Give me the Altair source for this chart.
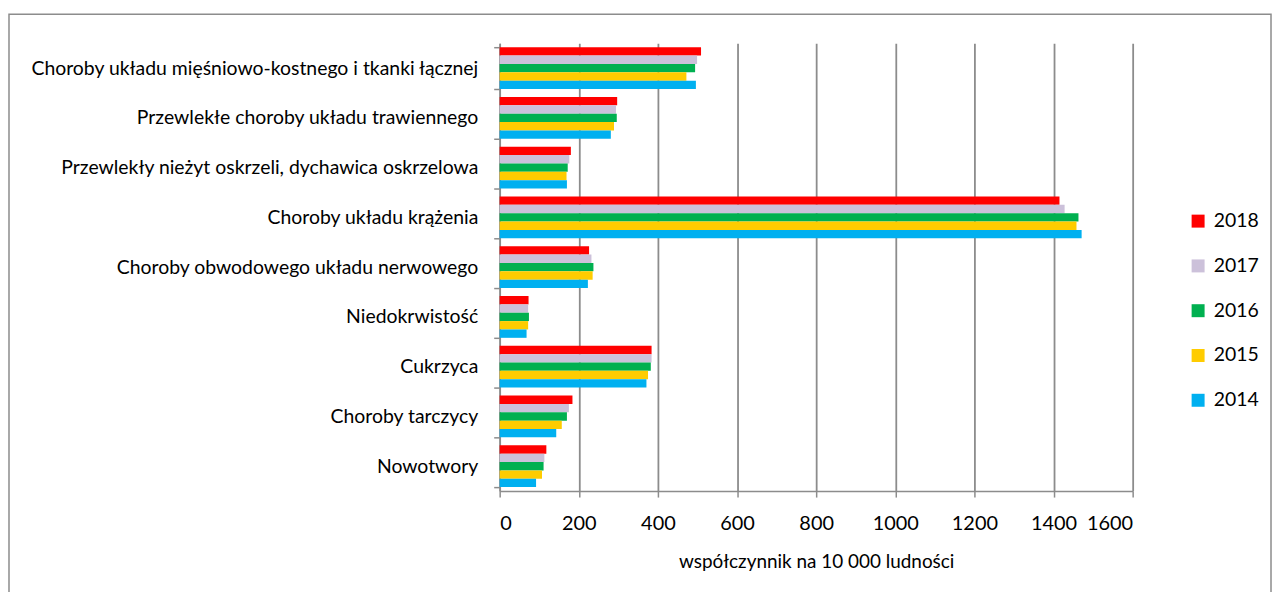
import altair as alt
import pandas as pd

categories = [
    "Choroby układu mięśniowo-kostnego i tkanki łącznej",
    "Przewlekłe choroby układu trawiennego",
    "Przewlekły nieżyt oskrzeli, dychawica oskrzelowa",
    "Choroby układu krążenia",
    "Choroby obwodowego układu nerwowego",
    "Niedokrwistość",
    "Cukrzyca",
    "Choroby tarczycy",
    "Nowotwory",
]
years = ["2018", "2017", "2016", "2015", "2014"]
colors = ["#FF0000", "#CCC1DA", "#00B050", "#FFCC00", "#00B0F0"]

v2018 = [509, 297, 180, 1415, 226, 73, 384, 184, 118]
v2017 = [499, 294, 176, 1428, 232, 72, 384, 175, 113]
v2016 = [494, 296, 172, 1463, 237, 74, 382, 170, 111]
v2015 = [472, 289, 169, 1458, 235, 72, 375, 157, 107]
v2014 = [496, 281, 170, 1471, 223, 68, 371, 143, 92]

x_ticks = [0, 200, 400, 600, 800, 1000, 1200, 1400, 1600]

rows = []
for yr, vals in zip(years, [v2018, v2017, v2016, v2015, v2014]):
    for c, v in zip(categories, vals):
        rows.append({"kategoria": c, "rok": yr, "wartosc": v})
df = pd.DataFrame(rows)

FONT = "Lato"

bars = alt.Chart(df).mark_bar().encode(
    y=alt.Y("kategoria:N", sort=categories, title=None,
            scale=alt.Scale(paddingInner=0.16, paddingOuter=0.08),
            axis=alt.Axis(tickBand="extent", tickSize=6, tickColor="#8c8c8c",
                          domainColor="#8c8c8c", domainWidth=1.5, tickWidth=1.5,
                          labelFontSize=19.5, labelColor="#000000", labelPadding=16,
                          labelLimit=600, labelFont=FONT, grid=False)),
    yOffset=alt.YOffset("rok:N", sort=years, scale=alt.Scale(paddingInner=0, paddingOuter=0)),
    x=alt.X("wartosc:Q", title="współczynnik na 10 000 ludności",
            scale=alt.Scale(domain=[0, 1600], nice=False),
            axis=alt.Axis(values=x_ticks, format="d", grid=True, gridColor="#8c8c8c",
                          gridWidth=1.8, tickSize=6, tickColor="#8c8c8c", tickWidth=1.5,
                          domainColor="#8c8c8c", domainWidth=1.5,
                          labelFontSize=20, labelColor="#000000", labelPadding=17,
                          labelFont=FONT, titleFont=FONT, titleFontSize=19,
                          titleFontWeight="normal", titleColor="#000000", titlePadding=19)),
    color=alt.Color("rok:N", sort=years,
                    scale=alt.Scale(domain=years, range=colors),
                    legend=alt.Legend(title=None, orient="none", legendX=692, legendY=169,
                                      symbolType="square", symbolSize=170, symbolStrokeWidth=0,
                                      labelFontSize=19.5, labelFont=FONT, labelColor="#000000",
                                      rowPadding=24, labelOffset=6)),
)

frame = alt.Chart(pd.DataFrame({"a": [0]})).mark_rect(
    fillOpacity=0, stroke="#8c8c8c", strokeWidth=1.5
).encode(
    x=alt.value(-493), x2=alt.value(775), y=alt.value(-29), y2=alt.value(600)
)

chart = alt.layer(bars, frame).properties(
    width=636, height=450,
    padding={"left": 494, "top": 34, "right": 140, "bottom": 100},
    autosize=alt.AutoSizeParams(type="none"),
    background="white",
).configure(font=FONT).configure_view(stroke="white", strokeOpacity=0)

chart.save("out.html", embed_options={"renderer": "svg", "actions": False})
